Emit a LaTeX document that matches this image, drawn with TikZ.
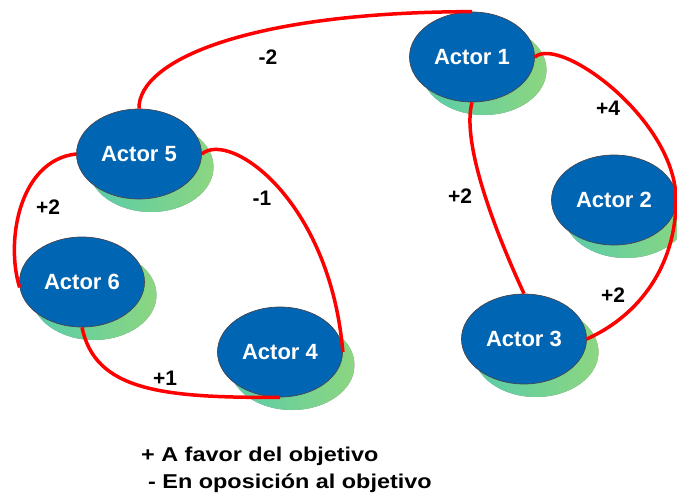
\documentclass[tikz,border=0pt]{standalone}
\usepackage{graphicx}
\usepackage{fontspec}
\setmainfont{Liberation Sans}
\usetikzlibrary{shapes.geometric,shadows}
\definecolor{actorblue}{RGB}{0,102,179}
\definecolor{sgA}{RGB}{88,204,170}
\definecolor{sgB}{RGB}{140,214,128}
\definecolor{edgegray}{RGB}{70,70,80}
\begin{document}
\begin{tikzpicture}[x=1pt,y=-1pt,
 actor/.style={ellipse, fill=actorblue, draw=edgegray, line width=0.7pt,
   minimum width=125pt, minimum height=90pt, inner sep=0pt, text=white,
   font=\fontsize{22}{26}\selectfont\bfseries,
   drop shadow={shadow xshift=12pt, shadow yshift=-13pt, left color=sgA, right color=sgB, opacity=1, draw=none}},
 link/.style={draw=red, line width=3.5pt},
 weight/.style={font=\fontsize{21}{25}\selectfont\bfseries, text=black, inner sep=0pt},
 legend/.style={font=\fontsize{20}{24}\selectfont\bfseries, anchor=base west, inner sep=0pt}]
\useasboundingbox (0,0) rectangle (677,495);

\node[actor] (a1) at (472,57) {Actor 1};
\node[actor] (a2) at (614,200) {Actor 2};
\node[actor] (a3) at (524,339) {Actor 3};
\node[actor] (a4) at (280,352) {Actor 4};
\node[actor] (a5) at (139,154) {Actor 5};
\node[actor] (a6) at (82,282) {Actor 6};

\coordinate (r) at (676,200);

\draw[link] (a5.north) .. controls (138,60) and (250,12) .. (a1.north);
\draw[link] (a1.east) .. controls (560,35) and (676,120) .. (r)
                      .. controls (676,265) and (640,315) .. (a3.east);
\draw[link] (a1.south) .. controls (462,140) and (490,220) .. (a3.north);
\draw[link] (a5.west) .. controls (20,160) and (5,240) .. (a6.185);
\draw[link] (a5.east) .. controls (230,130) and (330,200) .. (a4.east);
\draw[link] (a6.south) .. controls (95,390) and (160,398) .. (a4.south);

\node[weight] (w1) at (268,57) {-2};
\node[weight] (w2) at (608,108) {+4};
\node[weight] (w3) at (613,295) {+2};
\node[weight] (w4) at (460,196) {+2};
\node[weight] (w5) at (48,207) {+2};
\node[weight] (w6) at (262,198) {-1};
\node[weight] (w7) at (165,378) {+1};

\node[legend] (l1) at (141,461) {\scalebox{1.17}[1]{+ A favor del objetivo}};
\node[legend] (l2) at (148,488) {\scalebox{1.17}[1]{- En oposición al objetivo}};
\end{tikzpicture}
\end{document}
